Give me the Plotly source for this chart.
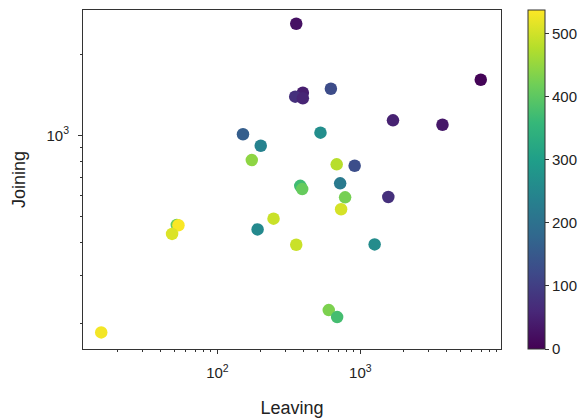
import plotly.graph_objects as go

leaving = [356, 396, 350, 396, 622, 151, 201, 174, 526, 6950, 1691, 3752, 683, 912,
           380, 392, 722, 782, 733, 1568, 356, 1258, 601, 688, 52.0, 53.4, 48.2, 191, 247, 15.4]
joining = [2600, 1440, 1392, 1373, 1490, 1009, 915, 809, 1023, 1609, 1137, 1095, 780, 771,
           649, 631, 663, 588, 531, 590, 392, 393, 224, 211, 464, 463, 430, 447, 490, 185]
value = [25, 45, 75, 55, 125, 160, 240, 445, 265, 5, 50, 35, 480, 130,
         370, 410, 220, 425, 505, 75, 495, 260, 430, 375, 410, 535, 510, 255, 495, 530]

x_major = [100, 1000]
x_major_text = ["10<sup>2</sup>", "10<sup>3</sup>"]
x_minor = [20, 30, 40, 50, 60, 70, 80, 90, 200, 300, 400, 500, 600, 700, 800, 900,
           2000, 3000, 4000, 5000, 6000, 7000, 8000, 9000]
y_major = [1000]
y_major_text = ["10<sup>3</sup>"]
y_minor = [200, 300, 400, 500, 600, 700, 800, 900, 2000]
cbar_ticks = [0, 100, 200, 300, 400, 500]

font_family = "Liberation Sans, Arial, sans-serif"
axis_color = "#333333"
text_color = "#222222"

fig = go.Figure(go.Scatter(
    x=leaving, y=joining, mode="markers",
    marker=dict(
        size=12.5, color=value, colorscale="Viridis", cmin=0, cmax=538,
        line=dict(width=0),
        colorbar=dict(
            thickness=17, len=1, lenmode="fraction", y=0.5, yanchor="middle",
            x=0.9008, xanchor="left", xpad=0, ypad=0,
            outlinewidth=1, outlinecolor=axis_color,
            ticks="outside", ticklen=4, tickcolor=axis_color,
            tickvals=cbar_ticks, tickfont=dict(size=15, color=text_color, family=font_family),
        ),
    ),
    showlegend=False,
))

fig.update_xaxes(
    type="log", range=[1.06, 3.984], domain=[0, 0.848], automargin=False,
    tickvals=x_major, ticktext=x_major_text,
    ticks="outside", ticklen=4, tickcolor=axis_color, ticklabelstandoff=6,
    minor=dict(tickvals=x_minor, ticks="outside", ticklen=2, tickcolor=axis_color, showgrid=False),
    showgrid=False, zeroline=False,
    showline=True, linecolor=axis_color, linewidth=1, mirror=True,
    tickfont=dict(size=15, color=text_color, family=font_family),
    title=dict(text="Leaving", font=dict(size=18, color=text_color, family=font_family), standoff=21),
)
fig.update_yaxes(
    type="log", range=[2.2056, 3.466], automargin=False,
    tickvals=y_major, ticktext=y_major_text,
    ticks="outside", ticklen=4, tickcolor=axis_color, ticklabelstandoff=6,
    minor=dict(tickvals=y_minor, ticks="outside", ticklen=2, tickcolor=axis_color, showgrid=False),
    showgrid=False, zeroline=False,
    showline=True, linecolor=axis_color, linewidth=1, mirror=True,
    tickfont=dict(size=15, color=text_color, family=font_family),
    title=dict(text="Joining", font=dict(size=18, color=text_color, family=font_family), standoff=16),
)

fig.update_layout(
    width=587, height=420,
    margin=dict(l=83, r=10, t=10, b=71),
    paper_bgcolor="white", plot_bgcolor="white",
    font=dict(family=font_family),
)

fig.write_html("out.html")
